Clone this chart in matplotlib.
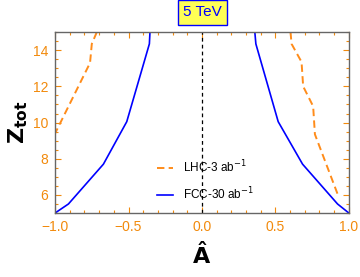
import matplotlib
matplotlib.use("Agg")
import matplotlib.pyplot as plt
from matplotlib.ticker import MultipleLocator

# Data
lhc_left_A = [-0.716, -0.750, -0.762, -1.0]
lhc_left_Z = [15.0, 14.35, 13.3, 9.4]
lhc_right_A = [0.603, 0.610, 0.678, 0.689, 0.757, 0.769, 0.928]
lhc_right_Z = [15.0, 14.35, 13.35, 12.0, 10.9, 9.35, 5.95]

fcc_left_A = [-0.354, -0.358, -0.512, -0.671, -0.909, -1.0]
fcc_left_Z = [15.0, 14.35, 10.05, 7.7, 5.5, 5.0]
fcc_right_A = [0.36, 0.367, 0.519, 0.685, 0.923, 1.0]
fcc_right_Z = [15.0, 14.35, 10.05, 7.7, 5.5, 5.0]

xticks = [-1.0, -0.5, 0.0, 0.5, 1.0]
yticks = [6, 8, 10, 12, 14]

orange = "#FF8C1A"
tickorange = "#F28A0C"
blue = "#0000FF"

plt.rcParams['font.family'] = ['Liberation Sans', 'DejaVu Sans']

fig = plt.figure(figsize=(3.6, 2.77), dpi=100)
ax = fig.add_axes([0.153, 0.231, 0.816, 0.653])

ax.plot(lhc_left_A, lhc_left_Z, color=orange, lw=1.4, ls=(0, (3.8, 2.2)),
        label=r"LHC-3 ab$^{-1}$")
ax.plot(lhc_right_A, lhc_right_Z, color=orange, lw=1.4, ls=(0, (3.8, 2.2)))
ax.plot(fcc_left_A, fcc_left_Z, color=blue, lw=1.2, label=r"FCC-30 ab$^{-1}$")
ax.plot(fcc_right_A, fcc_right_Z, color=blue, lw=1.2)
ax.axvline(0.0, color="black", lw=0.9, ls=(0, (3, 2.5)))

ax.set_xlim(-1, 1)
ax.set_ylim(5, 15)
ax.set_xticks(xticks)
ax.set_xticklabels([f"{v:.1f}".replace("-", "\u2212") for v in xticks])
ax.set_yticks(yticks)
ax.xaxis.set_minor_locator(MultipleLocator(0.1))
ax.yaxis.set_minor_locator(MultipleLocator(0.5))
ax.tick_params(which="both", direction="in", color=tickorange, top=True, right=True,
               labelcolor=tickorange, labelsize=10, width=0.8)
ax.tick_params(which="major", length=4, pad=5)
ax.tick_params(which="minor", length=2.5)
for s in ax.spines.values():
    s.set_color("#666666")
    s.set_linewidth(1.0)

ax.set_xlabel(r"$\mathbf{\hat{A}}$", fontsize=16, labelpad=6)
ax.set_ylabel(r"$\mathbf{Z}_{\mathbf{tot}}$", fontsize=16, labelpad=2)

leg = ax.legend(loc="lower left", bbox_to_anchor=(0.31, 0.0), frameon=False,
                fontsize=8.5, handlelength=1.4, handletextpad=0.8, labelspacing=0.9)

fig.text(0.563, 0.955, "5 TeV", ha="center", va="center", color=blue, fontsize=11,
         bbox=dict(boxstyle="square,pad=0.35", facecolor="#FFFF55", edgecolor=blue, lw=1.0))

fig.savefig("out.png", dpi=100)
